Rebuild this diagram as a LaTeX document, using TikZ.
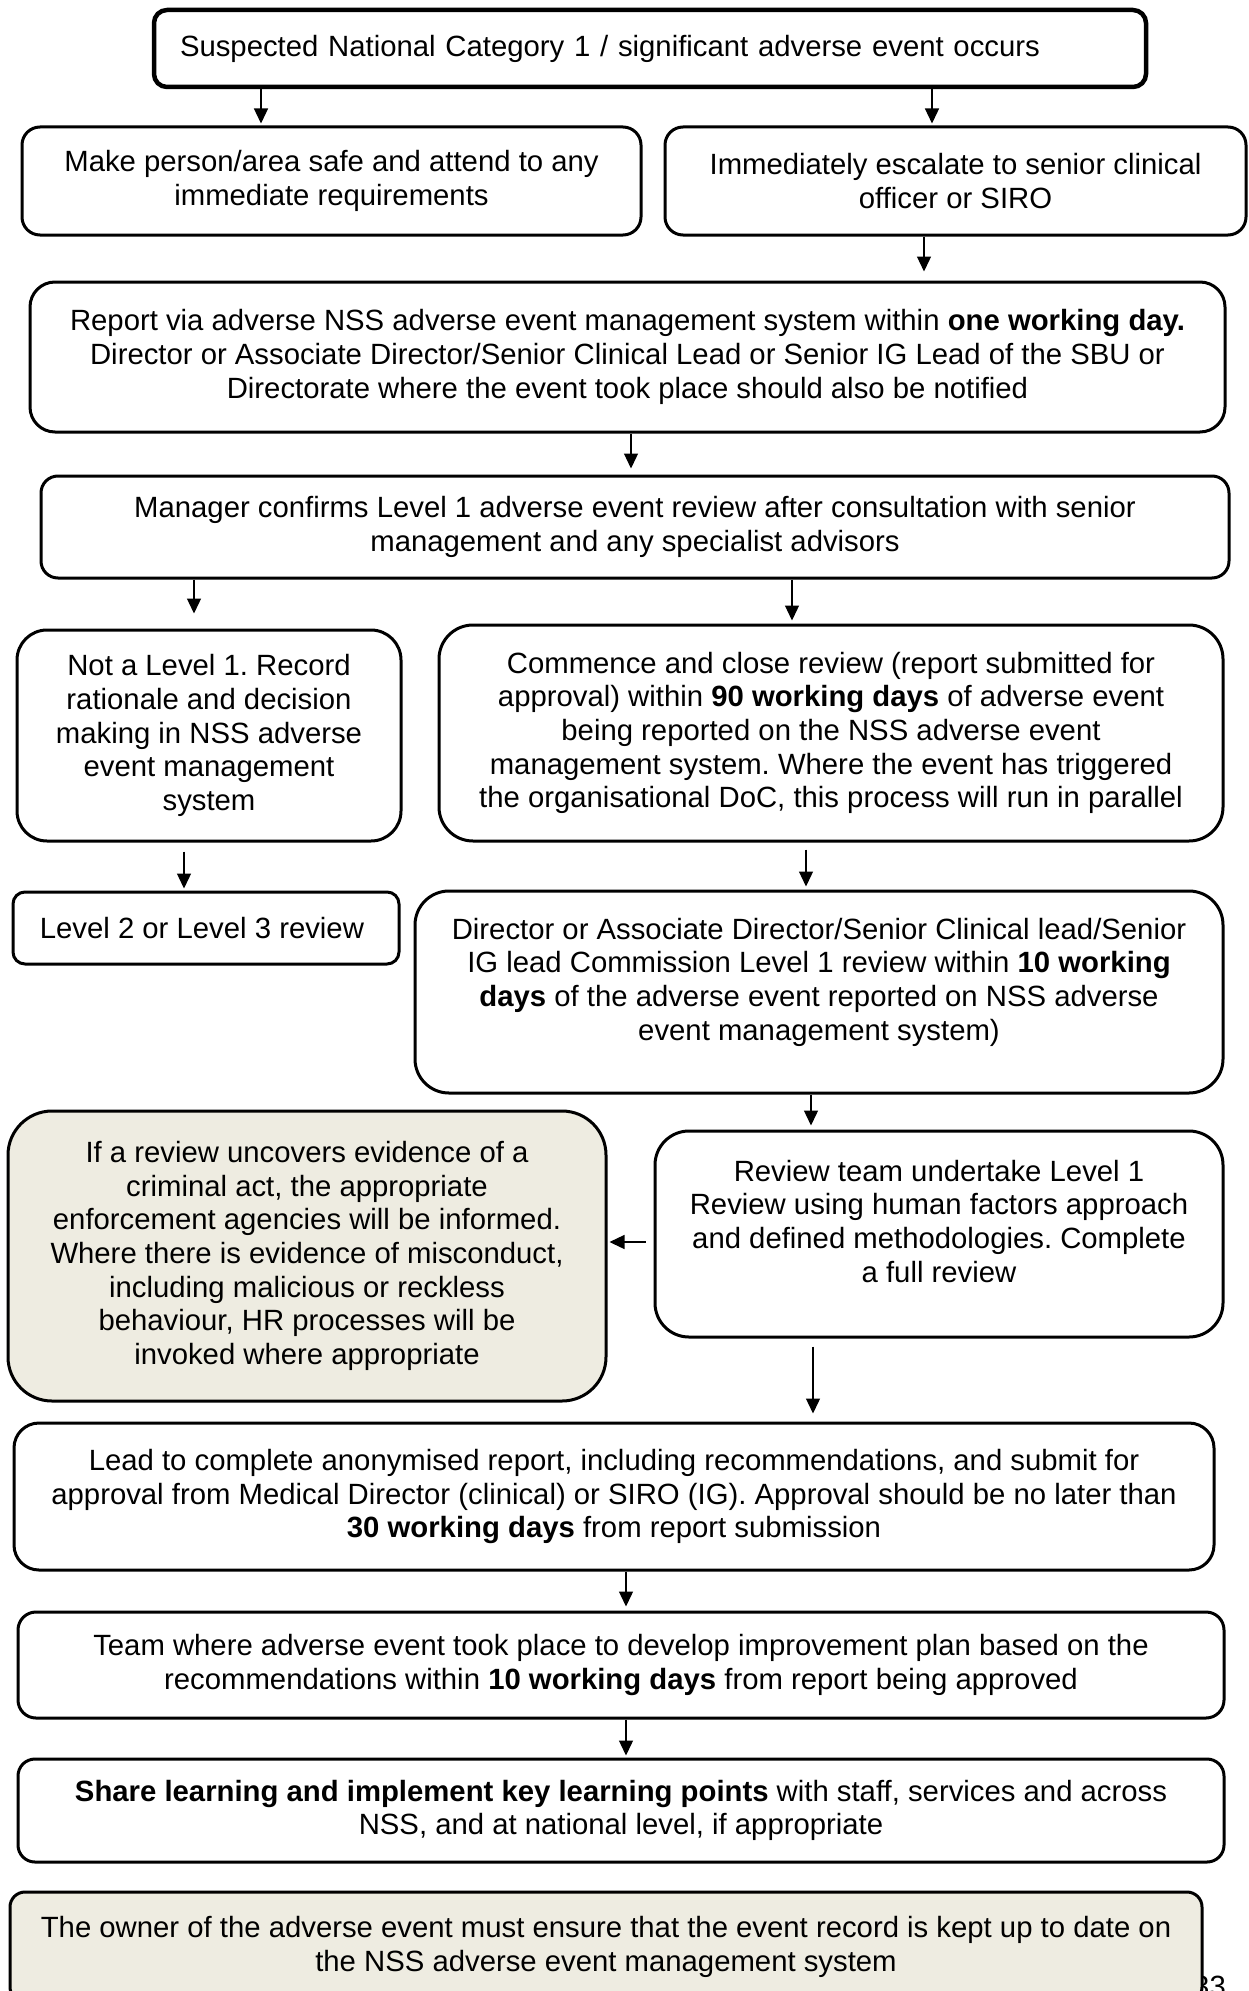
\documentclass[tikz,border=0pt]{standalone}
\usepackage{fontspec}
\setmainfont{Liberation Sans}
\usetikzlibrary{arrows.meta, positioning}
\definecolor{notegray}{RGB}{238,236,225}
\frenchspacing

\begin{document}
\begin{tikzpicture}[x=1pt, y=-1pt,
    stage/.style={draw, line width=3pt, rounded corners=#1, align=center, inner sep=0pt,
                  font=\fontsize{29.3}{33.7}\selectfont},
    stage/.default=18pt,
    flow/.style={-{Triangle[length=15pt, width=14pt]}, line width=1.3pt, shorten >=2pt}]
    \useasboundingbox (0,0) rectangle (1248,1991);

    % Event occurs
    \node[stage=13pt, line width=4.5pt, minimum width=992pt, minimum height=77pt,
          text width=940pt, align=left] (occurs) at (650,48.5) {
        \raisebox{5pt}{Suspected National Category 1 / significant adverse event occurs}
    };

    % First actions
    \node[stage, minimum width=619pt, minimum height=108pt] (safe) at (331.5,181) {
        Make person/area safe and attend to any\\immediate requirements
    };
    \node[stage, minimum width=581pt, minimum height=108pt] (escalate) at (955.5,181) {
        Immediately escalate to senior clinical\\officer or SIRO
    };

    % Reporting
    \node[stage=25pt, minimum width=1195pt, minimum height=150pt] (report) at (627.5,357) {
        Report via adverse NSS adverse event management system within \textbf{one working day.}\\
        Director or Associate Director/Senior Clinical Lead or Senior IG Lead of the SBU or\\
        Directorate where the event took place should also be notified
    };
    \node[stage=17pt, minimum width=1188pt, minimum height=102pt] (manager) at (635,527) {
        Manager confirms Level 1 adverse event review after consultation with senior\\
        management and any specialist advisors
    };

    % Level decision
    \node[stage=30pt, minimum width=384pt, minimum height=211pt] (notlevel) at (209,735.5) {
        Not a Level 1. Record\\rationale and decision\\making in NSS adverse\\event management\\system
    };
    \node[stage=34pt, minimum width=784pt, minimum height=216pt] (commence) at (831,733) {
        Commence and close review (report submitted for\\
        approval) within \textbf{90 working days} of adverse event\\
        being reported on the NSS adverse event\\
        management system. Where the event has triggered\\
        the organisational DoC, this process will run in parallel
    };
    \node[stage=12pt, minimum width=386pt, minimum height=72pt] (lowerlevel) at (206,928) {
        Level 2 or Level 3 review
    };
    \node[stage=34pt, minimum width=808pt, minimum height=202pt] (commission) at (819,992) {
        Director or Associate Director/Senior Clinical lead/Senior\\
        IG lead Commission Level 1 review within \textbf{10 working}\\
        \textbf{days} of the adverse event reported on NSS adverse\\
        event management system)\\[-8pt]\mbox{}
    };

    % Review
    \node[stage=44pt, fill=notegray, minimum width=598pt, minimum height=290pt] (criminal) at (307,1256) {
        If a review uncovers evidence of a\\criminal act, the appropriate\\
        enforcement agencies will be informed.\\Where there is evidence of misconduct,\\
        including malicious or reckless\\behaviour, HR processes will be\\
        invoked where appropriate
    };
    \node[stage=34pt, minimum width=568pt, minimum height=206pt] (reviewteam) at (939,1234) {
        Review team undertake Level 1\\Review using human factors approach\\
        and defined methodologies. Complete\\a full review\\[-8pt]\mbox{}
    };

    % Report and learning
    \node[stage=25pt, minimum width=1200pt, minimum height=147pt] (lead) at (614,1496.5) {
        Lead to complete anonymised report, including recommendations, and submit for\\
        approval from Medical Director (clinical) or SIRO (IG). Approval should be no later than\\
        \textbf{30 working days} from report submission
    };
    \node[stage, minimum width=1206pt, minimum height=106pt] (plan) at (621,1665) {
        Team where adverse event took place to develop improvement plan based on the\\
        recommendations within \textbf{10 working days} from report being approved
    };
    \node[stage=17pt, minimum width=1206pt, minimum height=103pt] (share) at (621,1810.5) {
        \textbf{Share learning and implement key learning points} with staff, services and across\\
        NSS, and at national level, if appropriate
    };

    % Page number, partly under the last box
    \node[anchor=base west, inner sep=0pt, font=\fontsize{29.3}{33.7}\selectfont] (pagenum) at (1193,1996) {33};
    \node[stage=15pt, fill=notegray, minimum width=1192pt, minimum height=110pt] (owner) at (606,1947) {
        The owner of the adverse event must ensure that the event record is kept up to date on\\
        the NSS adverse event management system
    };

    % Arrows
    \draw[flow] (occurs.south -| 261,0) -- (safe.north -| 261,0);
    \draw[flow] (occurs.south -| 932,0) -- (escalate.north -| 932,0);
    \draw[flow, shorten >=9pt] (escalate.south -| 924,0) -- (report.north -| 924,0);
    \draw[flow, shorten >=6pt] (report.south -| 631,0) -- (manager.north -| 631,0);
    \draw[flow, shorten >=15pt] (manager.south -| 194,0) -- (notlevel.north -| 194,0);
    \draw[flow, shorten >=3pt] (manager.south -| 792,0) -- (commence.north -| 792,0);
    \draw[flow, shorten <=9pt] (notlevel.south -| 184,0) -- (lowerlevel.north -| 184,0);
    \draw[flow, shorten <=7pt, shorten >=3pt] (commence.south -| 806,0) -- (commission.north -| 806,0);
    \draw[flow, shorten >=4pt] (commission.south -| 811,0) -- (reviewteam.north -| 811,0);
    \draw[flow, shorten <=8pt] (reviewteam.west |- 0,1242) -- (criminal.east |- 0,1242);
    \draw[flow, shorten <=8pt, shorten >=8pt] (reviewteam.south -| 813,0) -- (lead.north -| 813,0);
    \draw[flow, shorten >=4pt] (lead.south -| 626,0) -- (plan.north -| 626,0);
    \draw[flow] (plan.south -| 626,0) -- (share.north -| 626,0);
\end{tikzpicture}
\end{document}
